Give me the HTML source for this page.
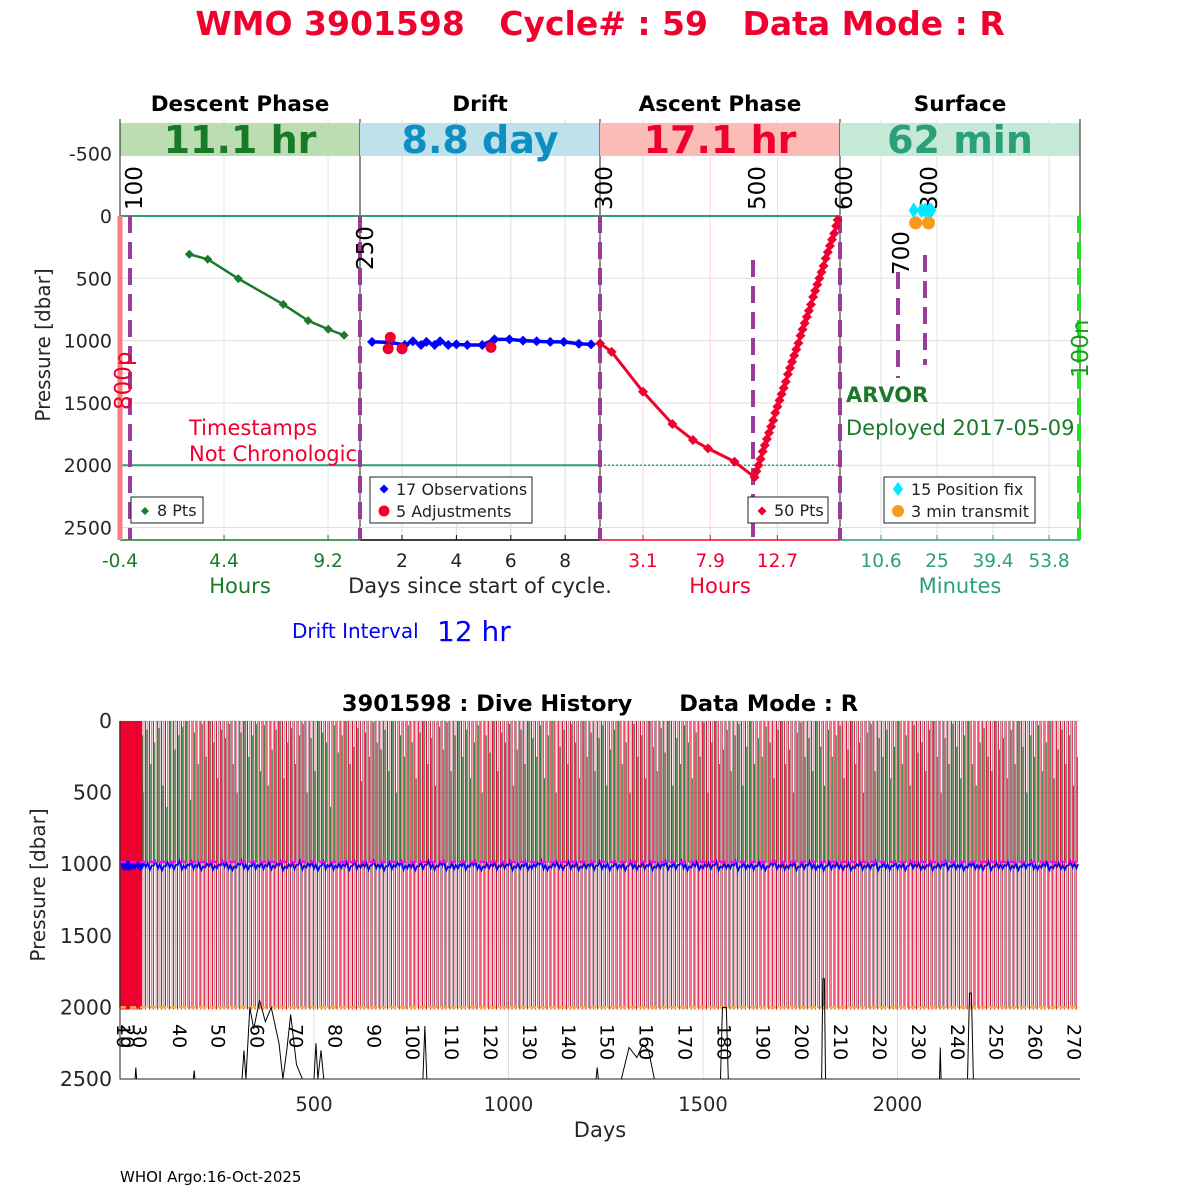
<!DOCTYPE html>
<html><head><meta charset="utf-8"><style>
html,body{margin:0;padding:0;background:#fff;}
svg{display:block;font-family:"DejaVu Sans","Liberation Sans",sans-serif;}
</style></head><body>
<svg id="s" width="1200" height="1200" viewBox="0 0 1200 1200" xmlns="http://www.w3.org/2000/svg">
<text x="600" y="35" text-anchor="middle" font-size="33" font-weight="bold" fill="#f0002e" style="white-space:pre">WMO 3901598   Cycle# : 59   Data Mode : R</text>
<g id="topPanel"></g>
<g id="botPanel"></g>
<text x="120" y="1182" font-size="15" fill="#000">WHOI Argo:16-Oct-2025</text>
</svg>
<script>
// ---------- top panel data ----------
const descentHours = [2.80, 3.65, 5.06, 7.13, 8.28, 9.21, 9.94];
const descentPres = [307, 347, 503, 709, 840, 909, 957];
const driftDays = [0.9,1.6,2.1,2.4,2.7,2.9,3.2,3.4,3.7,4.0,4.4,4.95,5.4,5.95,6.45,6.95,7.45,7.95,8.5,8.95];
const driftPres = [1010,1015,1035,1005,1035,1010,1035,1005,1035,1030,1035,1035,990,990,1000,1005,1010,1010,1025,1030];
const adjDays = [1.57, 1.49, 2.0, 5.27];
const adjPres = [974, 1065, 1065, 1054];
const ascentHours = [0.03,0.86,3.1,5.2,6.67,7.74,9.64,11.07,11.2,11.35,11.5,11.65,11.8,11.95,12.1,12.25,12.4,12.55,12.7,12.85,13.0,13.15,13.3,13.45,13.6,13.75,13.9,14.05,14.2,14.35,14.5,14.65,14.8,14.95,15.1,15.25,15.4,15.55,15.7,15.85,16.0,16.15,16.3,16.45,16.6,16.75,16.9,17.0];
const ascentPres = [1022,1090,1411,1669,1798,1865,1972,2097,2050,2000,1950,1890,1840,1790,1740,1690,1640,1580,1530,1480,1430,1380,1330,1270,1220,1170,1120,1070,1020,960,910,860,810,760,710,650,600,550,500,450,400,340,290,240,190,140,80,32];
const fixMinutes = [19, 21, 22, 23, 23.5];
const fixPres = [-45, -45, -45, -45, -45];
const transmitMinutes = [19.5, 22.8];
const transmitPres = [55, 55];
const yTicksTop = [-500, 0, 500, 1000, 1500, 2000, 2500];
const descentTicks = [-0.4, 4.4, 9.2];
const driftTicks = [2, 4, 6, 8];
const ascentTicks = [3.1, 7.9, 12.7];
const surfaceTicks = [10.6, 25, 39.4, 53.8];

// ---------- bottom panel data ----------
const cycleDays = [0,2,4,5,6,7,8,9,10,12,13,14,15,16,17,18,19,20,21,22,26,30,34,38,42,46,48,50,52,53,
63,73,83,94,104,114,124,135,145,155,
165,175,185,195,205,215,225,235,245,255,265,275,285,295,305,315,325,335,345,355,
365,375,385,395,405,415,425,435,445,455,465,475,485,495,505,515,525,535,545,555,
565,575,585,595,605,615,625,635,645,655,665,675,685,695,705,715,725,735,745,755,
765,775,785,795,805,815,825,835,845,855,865,875,885,895,905,915,925,935,945,955,
965,975,985,995,1005,1015,1025,1035,1045,1055,1065,1075,1085,1095,1105,1115,1125,1135,1145,1155,
1165,1175,1185,1195,1205,1215,1225,1235,1245,1255,1265,1275,1285,1295,1305,1315,1325,1335,1345,1355,
1365,1375,1385,1395,1405,1415,1425,1435,1445,1455,1465,1475,1485,1495,1505,1515,1525,1535,1545,1555,
1565,1575,1585,1595,1605,1615,1625,1635,1645,1655,1665,1675,1685,1695,1705,1715,1725,1735,1745,1755,
1765,1775,1785,1795,1805,1815,1825,1835,1845,1855,1865,1875,1885,1895,1905,1915,1925,1935,1945,1955,
1965,1975,1985,1995,2005,2015,2025,2035,2045,2055,2065,2075,2085,2095,2105,2115,2125,2135,2145,2155,
2165,2175,2185,2195,2205,2215,2225,2235,2245,2255,2265,2275,2285,2295,2305,2315,2325,2335,2345,2355,
2365,2375,2385,2395,2405,2415,2425,2435,2445,2455];
const greenTop = [600,400,300,150,100,200,50,150,300,350,20,100,400,50,200,0,80,250,300,100,120,50,0,200,300,150,0,400,100,500,
60,300,150,50,450,600,0,200,100,40,0,550,80,300,20,250,0,150,400,60,120,20,300,500,80,0,250,100,20,350,
30,450,200,60,0,400,150,50,300,100,20,500,120,350,0,80,150,600,30,220,100,0,300,180,50,420,80,250,10,150,
200,60,350,0,500,100,250,30,150,400,80,0,300,120,450,40,200,10,350,100,0,250,60,400,150,30,500,100,220,0,
350,80,150,20,450,200,60,300,0,120,250,30,400,100,0,500,180,60,300,20,150,400,0,250,80,350,120,30,450,200,
60,0,300,150,500,20,250,100,400,0,180,350,50,220,0,450,120,300,30,150,400,80,250,10,500,150,0,300,200,60,
350,100,20,450,180,0,300,120,250,40,150,400,60,0,300,200,500,80,10,250,120,350,0,180,450,60,250,100,30,400,
200,0,300,150,500,80,20,350,120,250,60,400,180,0,300,100,450,30,220,150,350,60,0,250,500,120,300,20,180,400,
100,0,300,450,150,50,250,350,0,200,120,400,60,300,0,180,500,100,250,30,350,150,0,400,200,60,300,100,450,250];
const driftHist = [1010,1030,1020,1040,1015,1035,1025,1045,1005,1030,1020,1040,1010,1035,1025,1015,1045,1030,1020,1010,1040,1025,1035,1015,1030,1020,1045,1010,1035,1025,
1020,1040,1010,1030,1045,1015,1025,1035,1005,1040,1030,1010,1035,1020,1045,1025,1015,1040,1030,1010,1020,1035,1045,1025,1005,1030,1040,1015,1035,1020,
1035,1015,1040,1025,1010,1045,1030,1020,1035,1005,1040,1025,1015,1030,1045,1010,1035,1020,1040,1025,1030,1015,1045,1010,1035,1025,1020,1040,1005,1030,
1025,1045,1015,1035,1020,1010,1040,1030,1025,1045,1015,1035,1005,1030,1040,1020,1010,1045,1025,1035,1030,1015,1040,1020,1010,1035,1045,1025,1030,1015,
1040,1020,1030,1010,1045,1025,1035,1015,1040,1030,1020,1005,1035,1045,1025,1015,1030,1040,1010,1035,1020,1045,1025,1030,1015,1040,1010,1035,1025,1045,
1015,1035,1025,1045,1010,1030,1040,1020,1035,1015,1045,1025,1030,1010,1040,1020,1035,1005,1030,1045,1025,1015,1040,1030,1020,1035,1010,1045,1025,1030,
1030,1010,1045,1020,1035,1025,1040,1015,1030,1045,1020,1010,1035,1025,1040,1030,1015,1045,1020,1035,1010,1030,1040,1025,1045,1015,1035,1020,1030,1040,
1020,1045,1030,1015,1040,1025,1035,1010,1045,1020,1030,1040,1015,1035,1025,1045,1010,1030,1020,1040,1035,1015,1045,1025,1030,1010,1040,1020,1035,1025,
1045,1025,1015,1035,1030,1040,1010,1045,1020,1030,1035,1015,1040,1025,1045,1020,1030,1010,1035,1040,1025,1015,1045,1030,1020,1035,1040,1010,1025,1030];
const bathyDays = [0,40,42,44,190,192,194,315,320,325,335,345,360,375,390,410,420,430,440,455,470,478,500,505,510,518,525,780,785,790,1225,1228,1231,1290,1310,1330,1345,1360,1375,1545,1550,1560,1565,1805,1808,1812,1815,2108,2110,2112,2180,2185,2190,2195,2469];
const bathyPres = [2500,2500,2420,2500,2500,2440,2500,2500,2300,2500,2000,2150,1950,2100,2000,2250,2500,2300,2050,2400,2500,2500,2500,2250,2500,2300,2500,2500,2130,2500,2500,2420,2500,2500,2280,2350,2260,2300,2500,2500,2000,2000,2500,2500,1800,1800,2500,2500,2280,2500,2500,1900,1900,2500,2500];
const cycleLabels = [10,20,30,40,50,60,70,80,90,100,110,120,130,140,150,160,170,180,190,200,210,220,230,240,250,260,270];
const dayTicks = [500, 1000, 1500, 2000];
const yTicksBot = [0, 500, 1000, 1500, 2000, 2500];

const NS = "http://www.w3.org/2000/svg";
function mk(parent, tag, attrs, text) {
  const e = document.createElementNS(NS, tag);
  for (const k in attrs) e.setAttribute(k, attrs[k]);
  if (text !== undefined) e.textContent = text;
  parent.appendChild(e);
  return e;
}
const topG = document.getElementById('topPanel');
const botG = document.getElementById('botPanel');

// scales
const ty = p => 216 + p * 0.1246;
const hx = h => 120 + (h + 0.4) * 21.67;
const dx = d => 347.6 + d * 27.2;
const ax = h => 599.6 + h * 14;
const sx = m => 839.8 + m * 3.89;
const bx = d => 119.5 + d * 0.389;
const by = p => 721 + p * 0.1432;

// ---- top panel ----
const panels = [
  {x0:120,x1:360,name:'Descent Phase',band:'#bcdcb1',val:'11.1 hr',vc:'#177a27',ticks:descentTicks,sc:hx,tc:'#1a7a2a',grid:'#d5ebdd',axis:'#1a7a2a',id:'descent'},
  {x0:360,x1:600,name:'Drift',band:'#bfe1ec',val:'8.8 day',vc:'#0e8fc2',ticks:driftTicks,sc:dx,tc:'#222',grid:'#dddddd',axis:'#000',id:'drift'},
  {x0:600,x1:840,name:'Ascent Phase',band:'#fbbcb8',val:'17.1 hr',vc:'#f0002e',ticks:ascentTicks,sc:ax,tc:'#f0002e',grid:'#fbd6dc',axis:'#f0002e',id:'ascent'},
  {x0:840,x1:1080,name:'Surface',band:'#c6e8d6',val:'62 min',vc:'#2a9f7a',ticks:surfaceTicks,sc:sx,tc:'#2a9f7a',grid:'#d5ebe3',axis:'#2a9f7a',id:'surface'}
];
panels.forEach(P => {
  const g = mk(topG, 'g', {});
  
  
  P.ticks.forEach(t => {
    const gl = mk(g, 'line', {x1:P.sc(t), x2:P.sc(t), y1:119, y2:540, stroke:P.grid, 'stroke-width':1});
    
    
  });
  yTicksTop.forEach(p => {
    const hl = mk(g, 'line', {x1:P.x0, x2:P.x1, y1:ty(p), y2:ty(p), stroke:'#dedede', 'stroke-width':1});
    
    
  });
  const b = mk(g, 'rect', {x:P.x0, y:123, width:P.x1-P.x0, height:33, fill:P.band});
  
  
  const bt = mk(g, 'text', {x:(P.x0+P.x1)/2, y:153, 'text-anchor':'middle', 'font-size':38, 'font-weight':'bold', fill:P.vc}, P.val);
  
  
  const ht = mk(g, 'text', {x:(P.x0+P.x1)/2, y:111, 'text-anchor':'middle', 'font-size':21.5, 'font-weight':'bold', fill:'#000'}, P.name);
  
  
  const xa = mk(g, 'line', {x1:P.x0, x2:P.x1, y1:540, y2:540, stroke:P.axis, 'stroke-width':1.5});
  
  
  P.ticks.forEach(t => {
    const tk = mk(g, 'line', {x1:P.sc(t), x2:P.sc(t), y1:540, y2:535, stroke:P.axis});
    
    
    const tl = mk(g, 'text', {x:P.sc(t), y:567, 'text-anchor':'middle', 'font-size':18.5, fill:P.tc}, String(t));
    
    
  });
  const vl = mk(g, 'line', {x1:P.x1, x2:P.x1, y1:119, y2:540, stroke:'#222', 'stroke-width':1});
  
  
});
// left y axis
const lax = mk(topG, 'line', {x1:120, x2:120, y1:119, y2:540, stroke:'#222', 'stroke-width':1});


yTicksTop.forEach(p => {
  const t = mk(topG, 'text', {x:112, y:ty(p)+7, 'text-anchor':'end', 'font-size':19, fill:'#262626'}, String(p));
  
  
});
const yl = mk(topG, 'text', {x:50, y:345, 'text-anchor':'middle', 'font-size':20, fill:'#262626', transform:'rotate(-90 50 345)'}, 'Pressure [dbar]');



// surface/2000 reference lines
[[120,600,0,''],[120,600,2000,''],[600,840,0,''],[600,840,2000,'2 2']].forEach(r => {
  const l = mk(topG, 'line', {x1:r[0], x2:r[1], y1:ty(r[2]), y2:ty(r[2]), stroke:'#2a9f7a', 'stroke-width':r[3]?1.5:2, 'stroke-dasharray':r[3] || 'none'});
  
  
});

// marker lines
const sal = mk(topG, 'line', {x1:120, x2:120, y1:216, y2:540, stroke:'#f77f7f', 'stroke-width':5});


[[130,216,540],[360,216,540],[600,216,540],[753,260,545],[840,216,540],[898,272,378],[925,255,365]].forEach(m => {
  const l = mk(topG, 'line', {x1:m[0], x2:m[0], y1:m[1], y2:m[2], stroke:'#993d99', 'stroke-width':4, 'stroke-dasharray':'17 9'});
  
  
});
const gdl = mk(topG, 'line', {x1:1079, x2:1079, y1:216, y2:540, stroke:'#22e022', 'stroke-width':4, 'stroke-dasharray':'17 9'});


[['100',142,210,'#000'],['250',373,270,'#000'],['300',612,210,'#000'],['500',765,210,'#000'],['600',852,210,'#000'],['700',909,275,'#000'],['300',937,210,'#000'],['800p',131,410,'#f0002e'],['100n',1088,378,'#1a9f1a']].forEach(m => {
  const t = mk(topG, 'text', {x:m[1], y:m[2], 'font-size':23, fill:m[3], transform:`rotate(-90 ${m[1]} ${m[2]})`}, m[0]);
  
  
});

function diamond(g, x, y, r, fill) {
  return mk(g, 'path', {d:`M${x} ${y-r}L${x+r} ${y}L${x} ${y+r}L${x-r} ${y}Z`, fill:fill});
}
// descent series
const dl = mk(topG, 'polyline', {points:descentHours.map((h,i)=>hx(h)+','+ty(descentPres[i])).join(' '), fill:'none', stroke:'#1a7a2a', 'stroke-width':2.5});


descentHours.forEach((h,i) => {
  const d = diamond(topG, hx(h), ty(descentPres[i]), 4.5, '#1a7a2a');
  
  
});
// drift series
const drl = mk(topG, 'polyline', {points:driftDays.map((d,i)=>dx(d)+','+ty(driftPres[i])).join(' '), fill:'none', stroke:'#0000ff', 'stroke-width':3.5});


driftDays.forEach((d,i) => {
  const m = diamond(topG, dx(d), ty(driftPres[i]), 5, '#0000ff');
  
  
});
adjDays.forEach((d,i) => {
  const c = mk(topG, 'circle', {cx:dx(d), cy:ty(adjPres[i]), r:5.5, fill:'#f0002e'});
  
  
});
// ascent series
const al = mk(topG, 'polyline', {points:ascentHours.map((h,i)=>ax(h)+','+ty(ascentPres[i])).join(' '), fill:'none', stroke:'#f0002e', 'stroke-width':3});


ascentHours.forEach((h,i) => {
  const d = diamond(topG, ax(h), ty(ascentPres[i]), 5, '#f0002e');
  
  
});
// surface
transmitMinutes.forEach((m,i) => {
  const c = mk(topG, 'circle', {cx:sx(m), cy:ty(transmitPres[i]), r:6.5, fill:'#f89a1c'});
  
  
});
fixMinutes.forEach((m,i) => {
  const d = mk(topG, 'path', {d:`M${sx(m)} ${ty(fixPres[i])-8}L${sx(m)+5} ${ty(fixPres[i])}L${sx(m)} ${ty(fixPres[i])+8}L${sx(m)-5} ${ty(fixPres[i])}Z`, fill:'#00e8ff'});
  
  
});

// legends
function legendBox(x, y, w, h) {
  return mk(topG, 'rect', {x:x, y:y, width:w, height:h, fill:'#fff', stroke:'#222', 'stroke-width':1});
}
function legText(x, y, s) {
  return mk(topG, 'text', {x:x, y:y, 'font-size':16, fill:'#222'}, s);
}
let e;
e = legendBox(131, 497, 72, 26);


e = diamond(topG, 145, 511, 4, '#1a7a2a');


e = legText(157, 516, '8 Pts');


e = legendBox(370, 477, 162, 46);


e = diamond(topG, 384, 489, 4.5, '#0000ff');


e = legText(396, 495, '17 Observations');


e = mk(topG, 'circle', {cx:384, cy:511, r:5.5, fill:'#f0002e'});


e = legText(396, 517, '5 Adjustments');


e = legendBox(748, 497, 80, 26);


e = diamond(topG, 762, 511, 4.5, '#f0002e');


e = legText(774, 516, '50 Pts');


e = legendBox(884, 477, 151, 46);


e = mk(topG, 'path', {d:'M898 482L903 489L898 496L893 489Z', fill:'#00e8ff'});


e = legText(911, 495, '15 Position fix');


e = mk(topG, 'circle', {cx:898, cy:511, r:6, fill:'#f89a1c'});


e = legText(911, 517, '3 min transmit');



// annotations
[['Timestamps',189,435,'#f0002e','normal','start','timestamp-warning'],['Not Chronologic',189,461,'#f0002e','normal','start','timestamp-warning-line2'],
 ['ARVOR',846,402,'#1a7a2a','bold','start','float-type-label'],['Deployed 2017-05-09',846,435,'#1a7a2a','normal','start','deployment-date-label'],
 ['Hours',240,593,'#1a7a2a','normal','middle','descent-x-axis-title'],['Days since start of cycle.',480,593,'#262626','normal','middle','drift-x-axis-title'],
 ['Hours',720,593,'#f0002e','normal','middle','ascent-x-axis-title'],['Minutes',960,593,'#2a9f7a','normal','middle','surface-x-axis-title']].forEach(a => {
  const t = mk(topG, 'text', {x:a[1], y:a[2], 'font-size':21, 'font-weight':a[4], fill:a[3], 'text-anchor':a[5]}, a[0]);
  
  
});
const di1 = mk(topG, 'text', {x:292, y:638, 'font-size':20, fill:'#0000ff'}, 'Drift Interval');


const di2 = mk(topG, 'text', {x:437, y:641, 'font-size':28, fill:'#0000ff'}, '12 hr');



// ---- bottom panel ----
yTicksBot.forEach(p => {
  const l = mk(botG, 'line', {x1:120, x2:1080, y1:by(p), y2:by(p), stroke:'#e0e0e0'});
  
  
  const t = mk(botG, 'text', {x:112, y:by(p)+7, 'text-anchor':'end', 'font-size':20.5, fill:'#262626'}, String(p));
  
  
});
dayTicks.forEach(d => {
  const l = mk(botG, 'line', {x1:bx(d), x2:bx(d), y1:721, y2:1079, stroke:'#e0e0e0'});
  
  
  const t = mk(botG, 'text', {x:bx(d), y:1111, 'text-anchor':'middle', 'font-size':19.5, fill:'#262626'}, String(d));
  
  
});
cycleDays.forEach((d,i) => {
  const x = bx(d);
  const k = mk(botG, 'line', {x1:x, x2:x, y1:by(0), y2:by(2000), stroke:'#000', 'stroke-width':0.4});
  
  
  const r = mk(botG, 'line', {x1:x+1.6, x2:x+1.6, y1:by(0), y2:by(2015), stroke:'#f0002e', 'stroke-width':1.1});
  
  
  const g = mk(botG, 'line', {x1:x+2.9, x2:x+2.9, y1:by(greenTop[i]), y2:by(990), stroke:'#1a7a2a', 'stroke-width':0.9});
  
  
});
const earlyBlock = mk(botG, 'rect', {x:bx(cycleDays[0]), y:by(0), width:bx(cycleDays[29])-bx(cycleDays[0])+2, height:by(2000)-by(0), fill:'#f0002e'});


const blue = mk(botG, 'polyline', {points:cycleDays.map((d,i)=>`${bx(d)+2},${by(driftHist[i])} ${bx(d)+3.6},${by(driftHist[i]-30)}`).join(' '), fill:'none', stroke:'#0000ff', 'stroke-width':1.6});


const mag = mk(botG, 'line', {x1:120, x2:1080, y1:by(985), y2:by(985), stroke:'#ff00ff', 'stroke-width':2.5, 'stroke-dasharray':'6 4'});


const org = mk(botG, 'line', {x1:120, x2:1080, y1:by(2000), y2:by(2000), stroke:'#f8b040', 'stroke-width':2.5, 'stroke-dasharray':'6 4'});


const bl = mk(botG, 'polyline', {points:bathyDays.map((d,i)=>bx(d)+','+by(bathyPres[i])).join(' '), fill:'none', stroke:'#000', 'stroke-width':1});


cycleLabels.forEach(c => {
  const x = bx(cycleDays[c-1]) - 7;
  const t = mk(botG, 'text', {x:x, y:1024, 'font-size':19, fill:'#000', transform:`rotate(90 ${x} 1024)`}, String(c));
  
  
});
const bxa = mk(botG, 'path', {d:'M120 721V1079H1080', fill:'none', stroke:'#222', 'stroke-width':1});


const bt = mk(botG, 'text', {x:600, y:711, 'text-anchor':'middle', 'font-size':22.5, 'font-weight':'bold', fill:'#000', style:'white-space:pre'}, '3901598 : Dive History      Data Mode : R');


const bxl = mk(botG, 'text', {x:600, y:1137, 'text-anchor':'middle', 'font-size':21, fill:'#262626'}, 'Days');


const byl = mk(botG, 'text', {x:45, y:885, 'text-anchor':'middle', 'font-size':20, fill:'#262626', transform:'rotate(-90 45 885)'}, 'Pressure [dbar]');


</script>
</body></html>
